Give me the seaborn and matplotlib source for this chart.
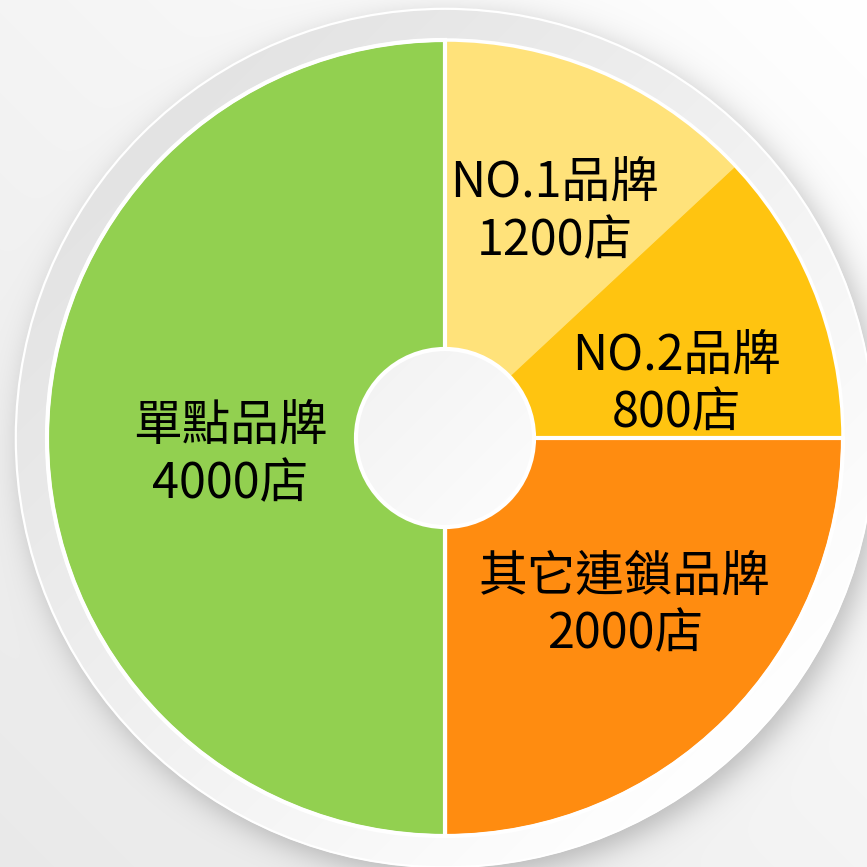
import numpy as np
import matplotlib
matplotlib.use("Agg")
import matplotlib.pyplot as plt
from matplotlib.patches import Circle
import seaborn as sns

# ---- data ----
categories = ["NO.1品牌", "NO.2品牌", "其它連鎖品牌", "單點品牌"]
stores = [1200, 800, 2000, 4000]           # values printed on the chart
drawn_share = [1045, 955, 2000, 4000]      # wedge sizes as drawn in the picture
unit = "店"
colors = ["#FFE27A", "#FFC410", "#FF8C10", "#92D050"]

# ---- layout (pixels) ----
W = H = 867
CX, CY = 445, H - 438
R_PIE = 398
R_RING = 430
R_HOLE = 89
label_dist = [0.64, 0.60, 0.61, 0.54]
label_dang = [-2, -7.5, 2.8, 3.5]
LABEL_DY = -5

sns.set_theme(style="white")
plt.rcParams["font.family"] = ["Noto Sans CJK TC", "DejaVu Sans"]

fig = plt.figure(figsize=(W / 100, H / 100), dpi=100)
ax = fig.add_axes([0, 0, 1, 1])

# background gradient + soft shadow
yy, xx = np.mgrid[H - 0.5:0:-1, 0.5:W:1]
bg = 0.915 + 0.085 * ((xx / W) + (yy / H)) / 2
d = np.hypot(xx - (CX + 7), yy - (CY - 9))
shadow = 0.24 / (1 + np.exp((d - R_RING) / 9.0))
img = np.clip(bg * (1 - shadow), 0, 1)
ax.imshow(np.dstack([img] * 3), extent=(0, W, 0, H), origin="upper", zorder=0)

# ring gradient
t = ((xx - CX) - (yy - CY)) / (np.sqrt(2) * R_RING)
ring = np.clip(0.89 + 0.11 * (t + 1) / 2, 0, 1)
ring_im = ax.imshow(np.dstack([ring] * 3), extent=(0, W, 0, H), origin="upper", zorder=1)
ring_im.set_clip_path(Circle((CX, CY), R_RING, transform=ax.transData))
ax.add_patch(Circle((CX, CY), R_RING - 0.8, fill=False, ec="white", lw=1.6, zorder=2))

pal = sns.color_palette(colors)
wedges, _ = ax.pie(drawn_share, colors=pal, startangle=90, counterclock=False,
                   center=(CX, CY), radius=R_PIE, frame=True)
for i, w in enumerate(wedges):
    w.set_zorder(3)
    if i < 2:
        w.set_edgecolor(colors[i])
        w.set_linewidth(0.8)
    else:
        w.set_edgecolor("white")
        w.set_linewidth(3)
ax.add_patch(Circle((CX, CY), R_PIE, fill=False, ec="white", lw=2.5, zorder=4))

# hole
th = ((xx - CX) - (yy - CY)) / (np.sqrt(2) * R_HOLE)
hole = np.clip(0.955 + 0.03 * (th + 1) / 2, 0, 1)
hole_im = ax.imshow(np.dstack([hole] * 3), extent=(0, W, 0, H), origin="upper", zorder=5)
hole_im.set_clip_path(Circle((CX, CY), R_HOLE, transform=ax.transData))
ax.add_patch(Circle((CX, CY), R_HOLE, fill=False, ec="white", lw=3, zorder=6))

# labels
for i, w in enumerate(wedges):
    ang = np.deg2rad((w.theta1 + w.theta2) / 2 + label_dang[i])
    r = R_PIE * label_dist[i]
    ax.text(CX + r * np.cos(ang), CY + r * np.sin(ang) + LABEL_DY,
            f"{categories[i]}\n{stores[i]}{unit}", ha="center", va="center",
            fontsize=35, color="black", linespacing=1.2, zorder=7)

ax.set_xlim(0, W)
ax.set_ylim(0, H)
ax.set_aspect("equal")
ax.axis("off")
fig.savefig("out.png", dpi=100)
